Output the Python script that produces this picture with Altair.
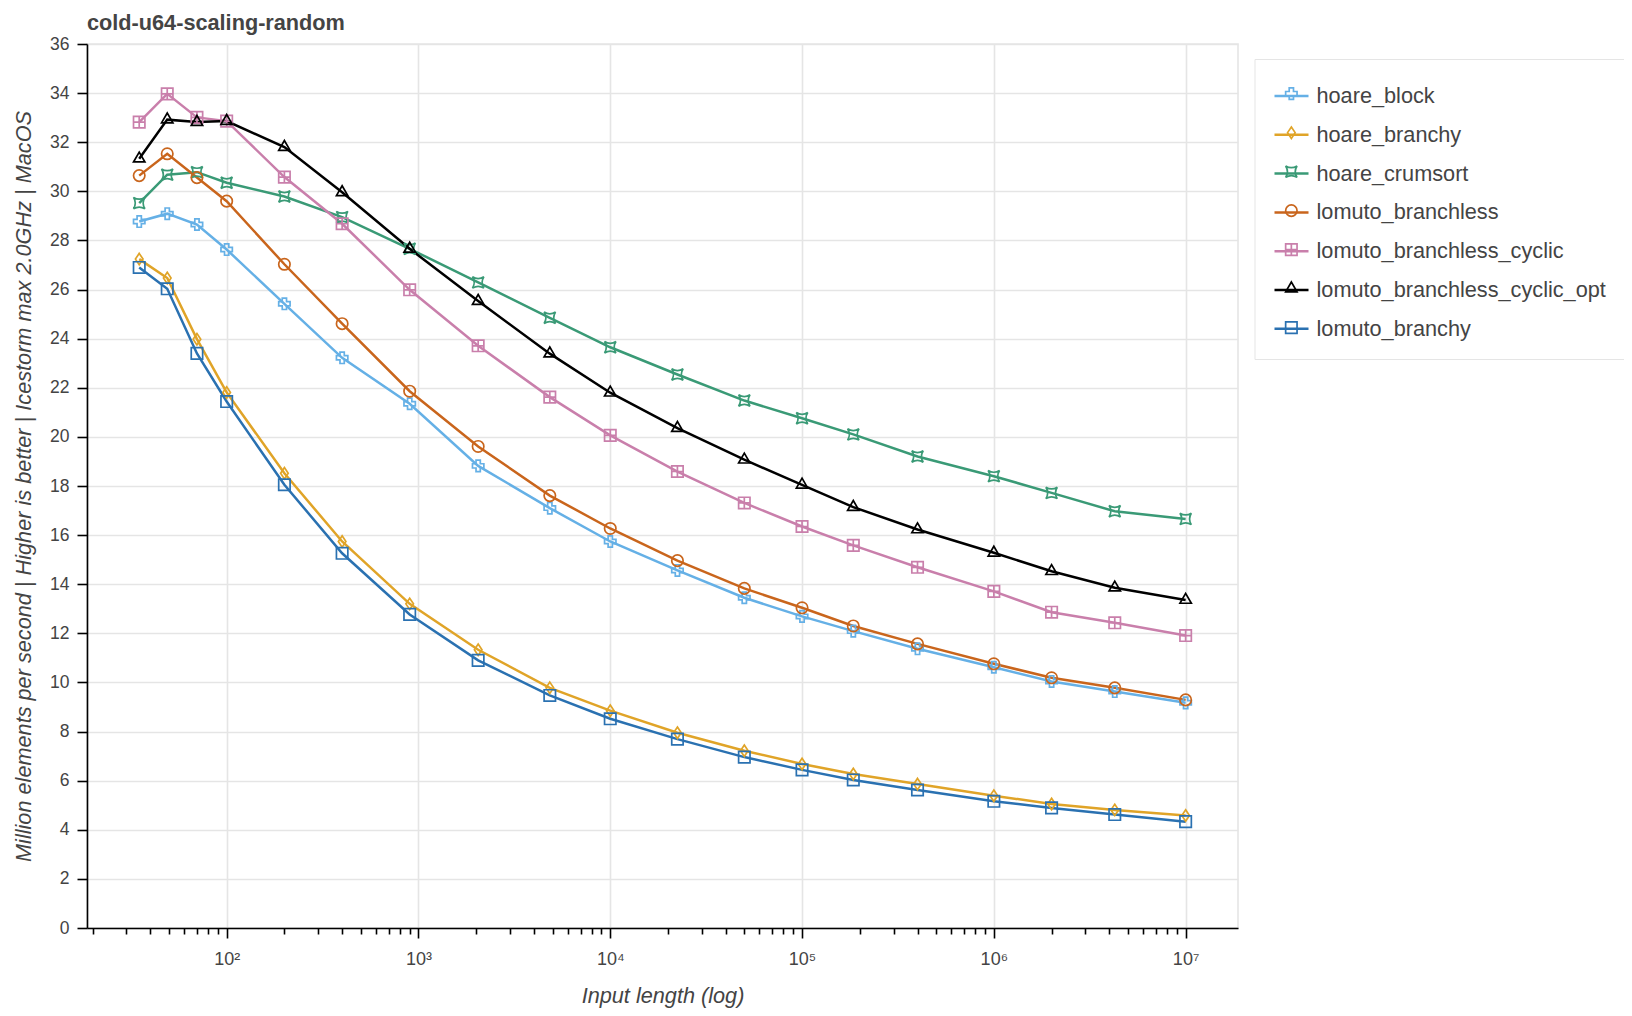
import altair as alt
import pandas as pd

# ---------------- data ----------------
series_names = [
    "hoare_block",
    "hoare_branchy",
    "hoare_crumsort",
    "lomuto_branchless",
    "lomuto_branchless_cyclic",
    "lomuto_branchless_cyclic_opt",
    "lomuto_branchy",
]
series_colors = ["#65b0e6", "#e0a428", "#3a9a76", "#c9651c", "#c97fab", "#000000", "#2a71b1"]

input_length = [35, 49, 70, 100, 200, 400, 900, 2048, 4840, 10000, 22400, 50000,
                100000, 185000, 400000, 1000000, 2000000, 4270000, 10000000]

hoare_block = [28.77, 29.09, 28.65, 27.63, 25.42, 23.22, 21.35, 18.82, 17.10, 15.74,
               14.56, 13.45, 12.69, 12.09, 11.37, 10.62, 10.04, 9.63, 9.17]
hoare_branchy = [27.24, 26.47, 23.98, 21.81, 18.52, 15.74, 13.20, 11.33, 9.78, 8.85,
                 7.95, 7.22, 6.68, 6.27, 5.86, 5.39, 5.05, 4.81, 4.58]
hoare_crumsort = [29.52, 30.68, 30.78, 30.35, 29.79, 28.95, 27.66, 26.29, 24.85, 23.65,
                  22.54, 21.48, 20.76, 20.10, 19.20, 18.40, 17.72, 16.97, 16.66]
lomuto_branchless = [30.64, 31.53, 30.56, 29.60, 27.03, 24.61, 21.86, 19.61, 17.61, 16.27,
                     14.96, 13.83, 13.04, 12.30, 11.57, 10.76, 10.19, 9.78, 9.29]
lomuto_branchless_cyclic = [32.82, 33.97, 33.01, 32.86, 30.58, 28.68, 25.99, 23.71, 21.62, 20.06,
                            18.59, 17.31, 16.35, 15.58, 14.69, 13.71, 12.86, 12.43, 11.91]
lomuto_branchless_cyclic_opt = [31.33, 32.92, 32.82, 32.86, 31.80, 29.96, 27.66, 25.53, 23.39, 21.80,
                                20.36, 19.07, 18.05, 17.14, 16.23, 15.28, 14.53, 13.86, 13.36]
lomuto_branchy = [26.90, 26.03, 23.40, 21.44, 18.05, 15.26, 12.77, 10.90, 9.47, 8.52,
                  7.69, 6.96, 6.44, 6.03, 5.62, 5.16, 4.89, 4.62, 4.33]

all_values = [hoare_block, hoare_branchy, hoare_crumsort, lomuto_branchless,
              lomuto_branchless_cyclic, lomuto_branchless_cyclic_opt, lomuto_branchy]

major_ticks = [100, 1000, 10000, 100000, 1000000, 10000000]
minor_ticks = [20, 30, 40, 50, 60, 70, 80, 90,
               200, 300, 400, 500, 600, 700, 800, 900,
               2000, 3000, 4000, 5000, 6000, 7000, 8000, 9000,
               20000, 30000, 40000, 50000, 60000, 70000, 80000, 90000,
               200000, 300000, 400000, 500000, 600000, 700000, 800000, 900000,
               2000000, 3000000, 4000000, 5000000, 6000000, 7000000, 8000000, 9000000]
y_ticks = [0, 2, 4, 6, 8, 10, 12, 14, 16, 18, 20, 22, 24, 26, 28, 30, 32, 34, 36]

# marker shapes (Bokeh-like: plus, diamond, square_pin, circle, square_cross, triangle, square)
shape_paths = [
    "M0.375,1L0.375,0.375L1,0.375L1,-0.375L0.375,-0.375L0.375,-1L-0.375,-1L-0.375,-0.375L-1,-0.375L-1,0.375L-0.375,0.375L-0.375,1Z",
    "M0,-1L0.667,0L0,1L-0.667,0Z",
    "M-1,-1Q0,-0.375 1,-1Q0.375,0 1,1Q0,0.375 -1,1Q-0.375,0 -1,-1Z",
    "circle",
    "M-1,-1L1,-1L1,1L-1,1Z M0,-1L0,1 M-1,0L1,0",
    "M-1,0.577L1,0.577L0,-1.155Z",
    "M-1,-1L1,-1L1,1L-1,1Z",
]

rows = []
for name, vals in zip(series_names, all_values):
    for x, y in zip(input_length, vals):
        rows.append({"length": x, "value": y, "series": name, "series_": name})
df = pd.DataFrame(rows)

# ---------------- styling ----------------
FONT = "Liberation Sans"
TXT = "#444444"
W, H = 1151, 884

x_scale = alt.Scale(type="log", domain=[18.7, 1.875e7], nice=False)
y_scale = alt.Scale(domain=[0, 36], nice=False, zero=True)

sup = "['\u2070','\u00b9','\u00b2','\u00b3','\u2074','\u2075','\u2076','\u2077','\u2078','\u2079']"
label_expr = "'10' + " + sup + "[round(log(datum.value) / LN10)]"

x_major_axis = alt.Axis(
    orient="bottom", values=major_ticks, labelExpr=label_expr,
    grid=True, gridColor="#e5e5e5", gridWidth=1.6,
    domain=True, domainColor="#000000", domainWidth=1.6,
    ticks=True, tickColor="#000000", tickWidth=1.6, tickSize=10,
    labelFont=FONT, labelFontSize=18, labelColor=TXT, labelPadding=12,
    title="Input length (log)", titleFont=FONT, titleFontSize=21.7,
    titleFontStyle="italic", titleFontWeight="normal", titleColor=TXT,
    titleY=67, titleBaseline="middle",
)
x_minor_axis = alt.Axis(
    orient="bottom", values=minor_ticks, labels=False, grid=False, domain=False,
    ticks=True, tickColor="#000000", tickWidth=1.6, tickSize=6, title=None,
)
y_axis = alt.Axis(
    values=y_ticks, grid=True, gridColor="#e5e5e5", gridWidth=1.6,
    domain=True, domainColor="#000000", domainWidth=1.6,
    ticks=True, tickColor="#000000", tickWidth=1.6, tickSize=10,
    labelFont=FONT, labelFontSize=17.5, labelColor=TXT, labelPadding=8,
    title="Million elements per second | Higher is better | Icestorm max 2.0GHz | MacOS",
    titleFont=FONT, titleFontSize=21.7, titleFontStyle="italic",
    titleFontWeight="normal", titleColor=TXT, titleX=-64, titleBaseline="middle",
)

LEG_X, LEG_Y, LEG_PAD = 1167.5, 15, 18.5
line_legend = alt.Legend(
    title=None, orient="none", legendX=LEG_X, legendY=LEG_Y,
    symbolType="stroke", symbolSize=1156, symbolStrokeWidth=2.5,
    labelFont=FONT, labelFontSize=21.7, labelColor=TXT, labelOffset=6.5, labelLimit=500,
    rowPadding=7.8, padding=LEG_PAD, strokeColor="#e5e5e5", fillColor="#ffffff",
)
marker_legend = alt.Legend(
    title=None, orient="none", legendX=LEG_X + 7.5, legendY=LEG_Y + 5.3,
    symbolSize=130, symbolStrokeWidth=1.7,
    labelFont=FONT, labelFontSize=21.7, labelOpacity=0, labelOffset=9, labelLimit=500,
    rowPadding=16, padding=LEG_PAD,
)

lines = alt.Chart(df).mark_line(strokeWidth=2.5).encode(
    x=alt.X("length:Q", scale=x_scale, axis=x_major_axis),
    y=alt.Y("value:Q", scale=y_scale, axis=y_axis),
    color=alt.Color("series:N", scale=alt.Scale(domain=series_names, range=series_colors),
                    legend=line_legend),
)

points = alt.Chart(df).mark_point(filled=False, size=130, strokeWidth=1.7, opacity=1).encode(
    x=alt.X("length:Q", scale=x_scale, axis=x_minor_axis),
    y=alt.Y("value:Q", scale=y_scale, axis=y_axis),
    color=alt.Color("series_:N", scale=alt.Scale(domain=series_names, range=series_colors),
                    legend=marker_legend),
    shape=alt.Shape("series_:N", scale=alt.Scale(domain=series_names, range=shape_paths),
                    legend=marker_legend),
)

chart = (
    alt.layer(lines, points)
    .resolve_scale(color="independent", shape="independent")
    .resolve_axis(x="independent")
    .properties(
        width=W, height=H,
        title=alt.TitleParams("cold-u64-scaling-random", anchor="start", frame="group",
                              font=FONT, fontSize=21.7, fontWeight="bold", color=TXT,
                              offset=0),
        padding={"left": 79, "top": 36, "right": 386, "bottom": 80},
        autosize=alt.AutoSizeParams(type="none"),
    )
    .configure_view(stroke="#e5e5e5", strokeWidth=1.6)
)

chart.save("out.html", embed_options={"renderer": "svg", "actions": False})
